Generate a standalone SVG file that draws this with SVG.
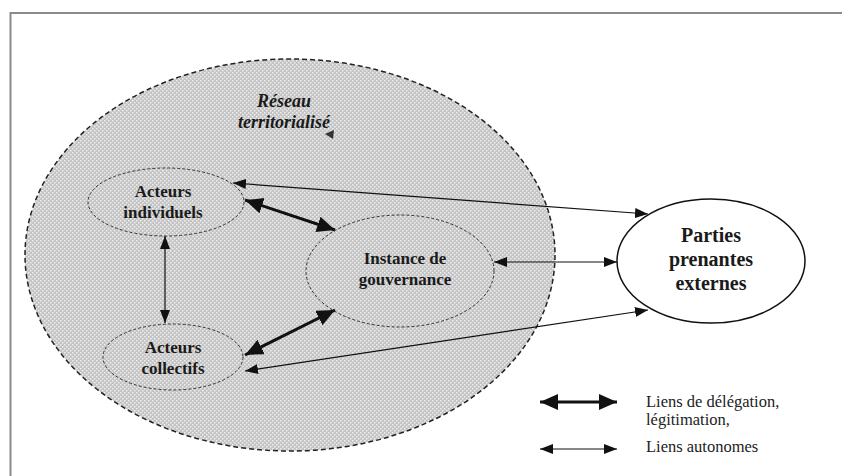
<svg xmlns="http://www.w3.org/2000/svg" width="842" height="476" viewBox="0 0 842 476">
<style>
.node-label{font-weight:bold;fill:#1a1a1a;text-anchor:middle}
.legend-label{font-size:16.5px;fill:#222}
.thin{stroke:#111;stroke-width:1.2;fill:none;marker-start:url(#ah-thin);marker-end:url(#ah-thin)}
.thick{stroke:#111;stroke-width:3;fill:none;marker-start:url(#ah-thick);marker-end:url(#ah-thick)}
.inner{fill:url(#dots);stroke:#333;stroke-width:1;stroke-dasharray:3 2}
</style>
<defs>
<pattern id="dots" width="4" height="4" patternUnits="userSpaceOnUse">
<rect width="4" height="4" fill="#c4c4c4"/>
<rect x="0" y="0" width="1.5" height="1.5" fill="#eeeeee"/>
<rect x="2" y="2" width="1.5" height="1.5" fill="#eeeeee"/>
</pattern>
<marker id="ah-thin" markerUnits="userSpaceOnUse" markerWidth="14" markerHeight="11" refX="13" refY="5" orient="auto-start-reverse">
<path d="M0,0 L13,5 L0,10 z" fill="#111"/>
</marker>
<marker id="ah-thick" markerUnits="userSpaceOnUse" markerWidth="19" markerHeight="17" refX="18" refY="8" orient="auto-start-reverse">
<path d="M0,0 L18,8 L0,16 z" fill="#111"/>
</marker>
</defs>
<rect x="0" y="0" width="842" height="476" fill="#ffffff"/>
<path d="M10.5,476 L10.5,13 L842,13" fill="none" stroke="#8a8a8a" stroke-width="2"/>

<g id="reseau" font-family="Liberation Serif, Times New Roman, serif">
<ellipse cx="290" cy="255" rx="265" ry="196" fill="url(#dots)" stroke="#222" stroke-width="1.5" stroke-dasharray="5 3"/>
<text class="node-label" font-style="italic" font-size="18" x="284" y="107">Réseau</text>
<text class="node-label" font-style="italic" font-size="18" x="284" y="128">territorialisé</text>
<path d="M325,134 L334,130 L333,139 z" fill="#333"/>
</g>

<g id="acteurs-individuels" font-family="Liberation Serif, Times New Roman, serif">
<ellipse class="inner" cx="166" cy="202" rx="78" ry="34"/>
<text class="node-label" font-size="17" x="163" y="197">Acteurs</text>
<text class="node-label" font-size="17" x="163" y="218">individuels</text>
</g>

<g id="acteurs-collectifs" font-family="Liberation Serif, Times New Roman, serif">
<ellipse class="inner" cx="173" cy="357" rx="70" ry="33"/>
<text class="node-label" font-size="17" x="173" y="353">Acteurs</text>
<text class="node-label" font-size="17" x="173" y="374">collectifs</text>
</g>

<g id="instance-gouvernance" font-family="Liberation Serif, Times New Roman, serif">
<ellipse class="inner" cx="400" cy="271" rx="94" ry="56"/>
<text class="node-label" font-size="17" x="405" y="264">Instance de</text>
<text class="node-label" font-size="17" x="405" y="285">gouvernance</text>
</g>

<g id="parties-prenantes" font-family="Liberation Serif, Times New Roman, serif">
<ellipse cx="711" cy="261" rx="94" ry="62" fill="#ffffff" stroke="#111" stroke-width="1.5"/>
<text class="node-label" font-size="20" x="711" y="242">Parties</text>
<text class="node-label" font-size="20" x="711" y="266">prenantes</text>
<text class="node-label" font-size="20" x="711" y="290">externes</text>
</g>

<g id="connectors">
<line class="thin" x1="233" y1="183" x2="648" y2="214"/>
<line class="thick" x1="245" y1="200" x2="335" y2="230"/>
<line class="thin" x1="165" y1="236" x2="165" y2="323"/>
<line class="thick" x1="245" y1="355" x2="335" y2="310"/>
<line class="thin" x1="494" y1="262" x2="617" y2="262"/>
<line class="thin" x1="245" y1="371" x2="648" y2="310"/>
</g>

<g id="legend" font-family="Liberation Serif, Times New Roman, serif">
<line class="thick" x1="540" y1="402" x2="617" y2="402"/>
<line class="thin" x1="540" y1="449" x2="617" y2="449"/>
<text class="legend-label" x="646" y="407">Liens de délégation,</text>
<text class="legend-label" x="646" y="425">légitimation,</text>
<text class="legend-label" x="646" y="452">Liens autonomes</text>
</g>
</svg>
